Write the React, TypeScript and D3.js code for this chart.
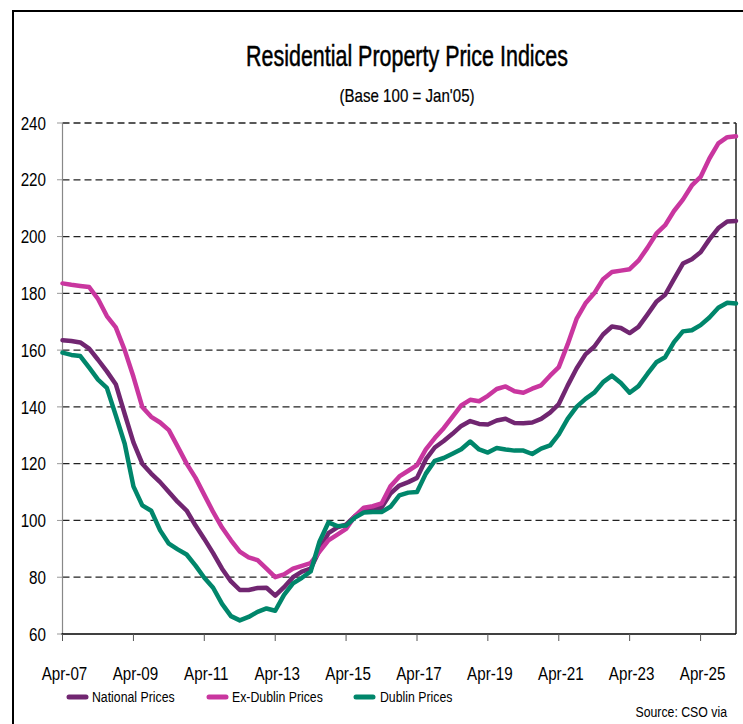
import React from "react";
import * as d3 from "d3";

const dates = [
  "2007-04","2007-07","2007-10","2008-01","2008-04","2008-07","2008-10","2009-01","2009-04","2009-07",
  "2009-10","2010-01","2010-04","2010-07","2010-10","2011-01","2011-04","2011-07","2011-10","2012-01",
  "2012-04","2012-07","2012-10","2013-01","2013-04","2013-07","2013-10","2014-01","2014-04","2014-07",
  "2014-10","2015-01","2015-04","2015-07","2015-10","2016-01","2016-04","2016-07","2016-10","2017-01",
  "2017-04","2017-07","2017-10","2018-01","2018-04","2018-07","2018-10","2019-01","2019-04","2019-07",
  "2019-10","2020-01","2020-04","2020-07","2020-10","2021-01","2021-04","2021-07","2021-10","2022-01",
  "2022-04","2022-07","2022-10","2023-01","2023-04","2023-07","2023-10","2024-01","2024-04","2024-07",
  "2024-10","2025-01","2025-04","2025-07","2025-10","2026-01","2026-04"
];

const nationalPrices = [
  163.5,163.2,162.7,160.5,156.6,152.5,148,137.5,127.5,120,
  116.5,113.5,110,106.5,103.5,98.2,93.5,88.5,83,78.5,
  75.5,75.5,76.2,76.3,73.5,76.5,80,82,83,89.5,
  95.5,97.6,98.5,101.5,103.5,104,104.5,109.5,112.3,113.5,
  115,121.5,125.7,128,130.5,133.3,135,134,133.8,135.2,
  135.8,134.3,134.2,134.5,135.8,138,141,147.5,153.5,158.5,
  161.2,165.5,168.3,167.8,166,168.2,172.5,177,179.5,185,
  190.5,192,194.5,199,203,205.3,205.5
];

const exDublinPrices = [
  183.5,183,182.6,182.2,178,172,168,160,150.6,140,
  136.5,134.5,131.8,126,120,115,109,103,97.5,93,
  89,87,86,83,80,81,83,84,85,89,
  93,95,97,101.5,104.5,105,106,112,115.5,117.5,
  119.5,125,129,132.5,136.5,140.5,142.5,142,143.9,146.3,
  147.2,145.5,145,146.4,147.6,151,154,162,171,176.5,
  180,185,187.5,188,188.5,191.5,196,201,204,209,
  213,218,221,227.5,232.8,235,235.3
];

const dublinPrices = [
  159.1,158.3,157.9,153.8,149.6,146.7,137,127,112,105.3,
  103.4,96.5,91.8,89.8,88,84.1,79.8,76.3,70.6,66.3,
  64.8,66,67.8,69,68.2,73.8,77.8,79.8,82,92.5,
  99.3,98,98.2,101,102.8,103,103,104.8,108.8,109.8,
  110,116.5,121,122,123.5,125.1,127.8,125,123.9,125.5,
  125,124.6,124.6,123.4,125.3,126.4,130.3,135.8,140,142.8,
  145,148.7,151,148.4,145,147.3,151.6,155.7,157.5,162.8,
  166.6,167,168.8,171.5,174.9,176.7,176.4
];

const xTickLabels = ["Apr-07","Apr-09","Apr-11","Apr-13","Apr-15","Apr-17","Apr-19","Apr-21","Apr-23","Apr-25"];
const yTickValues = [60, 80, 100, 120, 140, 160, 180, 200, 220, 240];

const seriesNames = ["National Prices", "Ex-Dublin Prices", "Dublin Prices"];
const seriesColors = ["#712671", "#C9369F", "#00866B"];

const FONT = "'Liberation Sans', Arial, sans-serif";

function T(props: {
  x: number; y: number; size: number; sx: number; anchor?: "start" | "middle" | "end";
  children: React.ReactNode; stroke?: number;
}) {
  const { x, y, size, sx, anchor = "start", children, stroke } = props;
  return (
    <text transform={`translate(${x},${y}) scale(${sx},1)`} x={0} y={0} dy="0.35em"
      textAnchor={anchor} fontSize={size} fill="#000"
      stroke={stroke ? "#000" : undefined} strokeWidth={stroke}>
      {children}
    </text>
  );
}

export default function App() {
  const W = 743, H = 724;
  const left = 62.5, right = 736, top = 123, bottom = 634;
  const parseD = d3.timeParse("%Y-%m");
  const parseTick = d3.timeParse("%b-%y");
  const x = d3.scaleTime()
    .domain([parseD("2007-04") as Date, parseD("2026-04") as Date])
    .range([left, right]);
  const y = d3.scaleLinear().domain([60, 240]).range([bottom, top]);

  const allSeries = [nationalPrices, exDublinPrices, dublinPrices];
  const line = d3.line<number>()
    .x((_, i) => x(parseD(dates[i]) as Date))
    .y((v) => y(v))
    .curve(d3.curveLinear);

  const legendItems = [
    { sx: 67, tx: 92 },
    { sx: 207, tx: 232 },
    { sx: 354, tx: 380 },
  ];

  return (
    <svg width={W} height={H} style={{ position: "absolute", left: 0, top: 0, background: "#fff" }}
      fontFamily={FONT}>
      <rect x={0} y={0} width={W} height={H} fill="#fff" />
      {/* frame */}
      <line x1={12} x2={W} y1={11} y2={11} stroke="#000" strokeWidth={2} />
      <line x1={13} x2={13} y1={10} y2={H} stroke="#000" strokeWidth={2} />

      {/* title */}
      <T x={407} y={56} size={29} sx={0.74} anchor="middle" stroke={0.5}>
        Residential Property Price Indices
      </T>
      <T x={407} y={96} size={18} sx={0.84} anchor="middle" stroke={0.2}>
        (Base 100 = Jan'05)
      </T>

      {/* gridlines */}
      {yTickValues.map((v) => (
        <g key={v}>
          {v > 60 && (
            <line x1={left} x2={right} y1={y(v)} y2={y(v)} stroke="#222" strokeWidth={1.3}
              strokeDasharray="7,4" />
          )}
          <line x1={57} x2={left} y1={y(v)} y2={y(v)} stroke="#999" strokeWidth={1} />
          <T x={46} y={y(v)} size={19} sx={0.8} anchor="end">{v}</T>
        </g>
      ))}

      {/* axes */}
      <line x1={left} x2={left} y1={top} y2={bottom} stroke="#888" strokeWidth={1.2} />
      <line x1={right} x2={right} y1={top} y2={bottom} stroke="#222" strokeWidth={1.5} />
      <line x1={left - 1} x2={right} y1={bottom} y2={bottom} stroke="#000" strokeWidth={1.5} />
      {xTickLabels.map((lab) => {
        const px = x(parseTick(lab) as Date);
        return (
          <g key={lab}>
            <line x1={px} x2={px} y1={bottom} y2={bottom + 7} stroke="#555" strokeWidth={1} />
            <T x={px + 2} y={673} size={19} sx={0.8} anchor="middle">{lab}</T>
          </g>
        );
      })}

      {/* series */}
      {allSeries.map((s, i) => (
        <path key={seriesNames[i]} d={line(s) || ""} fill="none" stroke={seriesColors[i]}
          strokeWidth={4.5} strokeLinejoin="round" strokeLinecap="round" />
      ))}

      {/* legend */}
      {legendItems.map((it, i) => (
        <g key={seriesNames[i]}>
          <line x1={it.sx + 2} x2={it.sx + 19} y1={697} y2={697} stroke={seriesColors[i]}
            strokeWidth={5} strokeLinecap="round" />
          <T x={it.tx} y={697} size={15} sx={0.82}>{seriesNames[i]}</T>
        </g>
      ))}
      <T x={727} y={712} size={15} sx={0.82} anchor="end">Source: CSO via</T>
    </svg>
  );
}
